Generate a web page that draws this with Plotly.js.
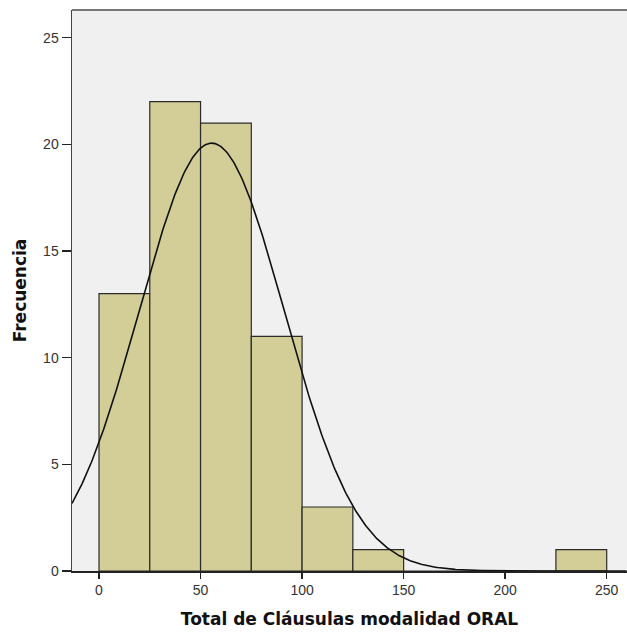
<!DOCTYPE html>
<html>
<head>
<meta charset="utf-8">
<script src="https://cdn.plot.ly/plotly-3.0.1.min.js"></script>
<style>html,body{margin:0;padding:0;background:#fff;}</style>
</head>
<body>
<div id="chart" style="width:627px;height:634px;"></div>
<script>
// Histogram bins (bin centres) and frequencies
const binCenters = [12.5, 37.5, 62.5, 87.5, 112.5, 137.5, 162.5, 187.5, 212.5, 237.5];
const frequencies = [13, 22, 21, 11, 3, 1, 0, 0, 0, 1];
const binWidth = 25;
// Fitted normal curve parameters
const curveMean = 55.5;
const curveSD = 35.8;
const curveN = 72;
const xTicks = [0, 50, 100, 150, 200, 250];
const yTicks = [0, 5, 10, 15, 20, 25];

const curveX = [];
const curveY = [];
for (let x = -13.3; x <= 260; x += 0.5) {
  curveX.push(x);
  const z = (x - curveMean) / curveSD;
  curveY.push(curveN * binWidth / (curveSD * Math.sqrt(2 * Math.PI)) * Math.exp(-0.5 * z * z));
}

const bars = {
  type: 'bar',
  x: binCenters,
  y: frequencies,
  width: binWidth,
  marker: {color: '#D3CE97', line: {color: '#2b2b2b', width: 1.2}},
  hoverinfo: 'x+y',
  showlegend: false
};
const curve = {
  type: 'scatter',
  mode: 'lines',
  x: curveX,
  y: curveY,
  line: {color: '#111', width: 1.6},
  showlegend: false,
  hoverinfo: 'skip'
};

const titleFont = {size: 17, color: '#111', family: '"DejaVu Sans", Verdana, sans-serif', weight: 'bold'};

const layout = {
  width: 627,
  height: 634,
  margin: {l: 72, r: 0, t: 10, b: 63},
  paper_bgcolor: '#ffffff',
  plot_bgcolor: '#F0F0F0',
  font: {family: 'Arial, "Liberation Sans", sans-serif', color: '#333', size: 14},
  xaxis: {
    range: [-13.3, 260],
    tickvals: xTicks,
    ticktext: xTicks.map(String),
    ticks: 'outside',
    ticklen: 6,
    tickwidth: 1.5,
    tickcolor: '#222',
    showgrid: false,
    zeroline: false,
    showline: true,
    linecolor: '#222',
    linewidth: 1.5,
    tickfont: {size: 14, color: '#333'},
    title: {text: 'Total de Cláusulas modalidad ORAL', font: titleFont, standoff: 16}
  },
  yaxis: {
    range: [0, 26.3],
    tickvals: yTicks,
    ticktext: yTicks.map(String),
    ticks: 'outside',
    ticklen: 9,
    tickwidth: 1.5,
    tickcolor: '#222',
    showgrid: false,
    zeroline: false,
    showline: true,
    linecolor: '#444',
    linewidth: 1.5,
    tickfont: {size: 14, color: '#333'},
    title: {text: 'Frecuencia', font: titleFont, standoff: 12}
  },
  shapes: [
    {type: 'line', xref: 'paper', yref: 'paper', x0: 0, x1: 1, y0: 1, y1: 1, line: {color: '#777', width: 2}}
  ],
  bargap: 0
};

Plotly.newPlot('chart', [bars, curve], layout, {displayModeBar: false, staticPlot: true});
</script>
</body>
</html>
